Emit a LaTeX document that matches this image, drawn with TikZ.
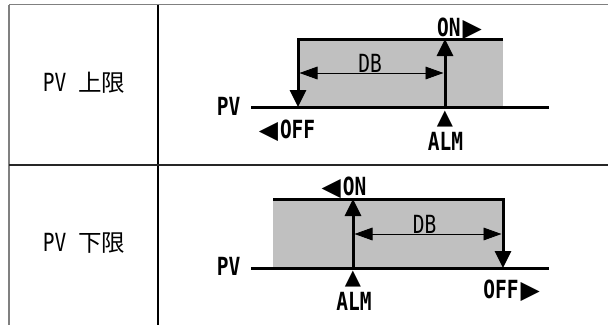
\documentclass[tikz,border=0pt]{standalone}
\usepackage{fontspec}
\setmainfont[FakeStretch=0.78]{DejaVu Sans Mono}
\newfontfamily\cjkfont{Noto Sans CJK JP}
\newfontfamily\symfont{DejaVu Sans}
\usetikzlibrary{arrows.meta}
\definecolor{bandgray}{HTML}{C0C0C0}
\definecolor{rulegray}{HTML}{808080}
\newcommand{\tri}[1]{{\symfont\fontsize{25}{25}\selectfont #1}}
\newcommand{\smalltri}[1]{{\symfont\fontsize{21}{21}\selectfont #1}}
\newcommand{\kanji}[1]{{\cjkfont\fontsize{23.5}{24}\selectfont #1}}

\begin{document}
\begin{tikzpicture}[x=1pt,y=-1pt,
    tag/.style={inner sep=0pt,anchor=base,font=\fontsize{25}{26}\selectfont\bfseries},
    rowtag/.style={inner sep=0pt,anchor=base,font=\fontsize{25}{26}\selectfont},
    level/.style={line width=3pt},
    switch/.style={line width=3pt,-{Triangle[length=17pt,width=16pt]}},
    band/.style={line width=0.9pt,{Triangle[length=18pt,width=12.7pt]}-{Triangle[length=18pt,width=12.7pt]}}]
\useasboundingbox (0,0) rectangle (608,325);

% Table lines
\draw[rulegray,line width=1.6pt] (9,4.5) -- (608,4.5);
\draw[rulegray,line width=1.6pt] (9,4.5) -- (9,325);
\draw[line width=1.3pt] (158,4.5) -- (158,325);
\draw[black!85,line width=1.1pt] (9,165) -- (608,165);

% First row: PV upper limit
\node[rowtag] (rowA) at (84,91) {PV \kanji{上限}};
\fill[bandgray] (298,39) rectangle (503,107);
\coordinate (pvStartA) at (251,107);
\coordinate (pvEndA) at (549,107);
\coordinate (topEndA) at (503,39);
\coordinate (offTopA) at (298,39);
\coordinate (offA) at (298,107);
\coordinate (almA) at (445,107);
\coordinate (onA) at (445,39);
\coordinate (dbLeftA) at (299.5,73);
\coordinate (dbRightA) at (443.5,73);
\draw[level] (pvStartA) -- (pvEndA);
\draw[switch] (topEndA) -- (offTopA) -- (offA);
\draw[switch] (almA) -- (onA);
\draw[band] (dbLeftA) -- (dbRightA);
\node[tag] (pvA) at (228.5,115) {PV};
\node[rowtag] (dbA) at (370,72) {DB};
\node[tag] (onTxtA) at (459.5,36) {ON\kern2pt\tri{▶}};
\node[tag] (offTxtA) at (287,138) {\tri{◀}\kern2pt OFF};
\node[tag] (almMarkA) at (445,124) {\smalltri{▲}};
\node[tag] (almTxtA) at (445.5,150) {ALM};

% Second row: PV lower limit
\node[rowtag] (rowB) at (84,251.5) {PV \kanji{下限}};
\fill[bandgray] (273,199) rectangle (503,268);
\coordinate (pvStartB) at (251,268);
\coordinate (pvEndB) at (549,268);
\coordinate (topStartB) at (273,199);
\coordinate (offTopB) at (503,199);
\coordinate (offB) at (503,268);
\coordinate (almB) at (353,268);
\coordinate (onB) at (353,199);
\coordinate (dbLeftB) at (354.5,234);
\coordinate (dbRightB) at (501.5,234);
\draw[level] (pvStartB) -- (pvEndB);
\draw[switch] (topStartB) -- (offTopB) -- (offB);
\draw[switch] (almB) -- (onB);
\draw[band] (dbLeftB) -- (dbRightB);
\node[tag] (pvB) at (228.5,275.5) {PV};
\node[rowtag] (dbB) at (424.5,233) {DB};
\node[tag] (onTxtB) at (344,195) {\tri{◀}\kern2pt ON};
\node[tag] (offTxtB) at (511.5,298) {OFF\kern2pt\tri{▶}};
\node[tag] (almMarkB) at (353,284) {\smalltri{▲}};
\node[tag] (almTxtB) at (354,310) {ALM};
\end{tikzpicture}
\end{document}
